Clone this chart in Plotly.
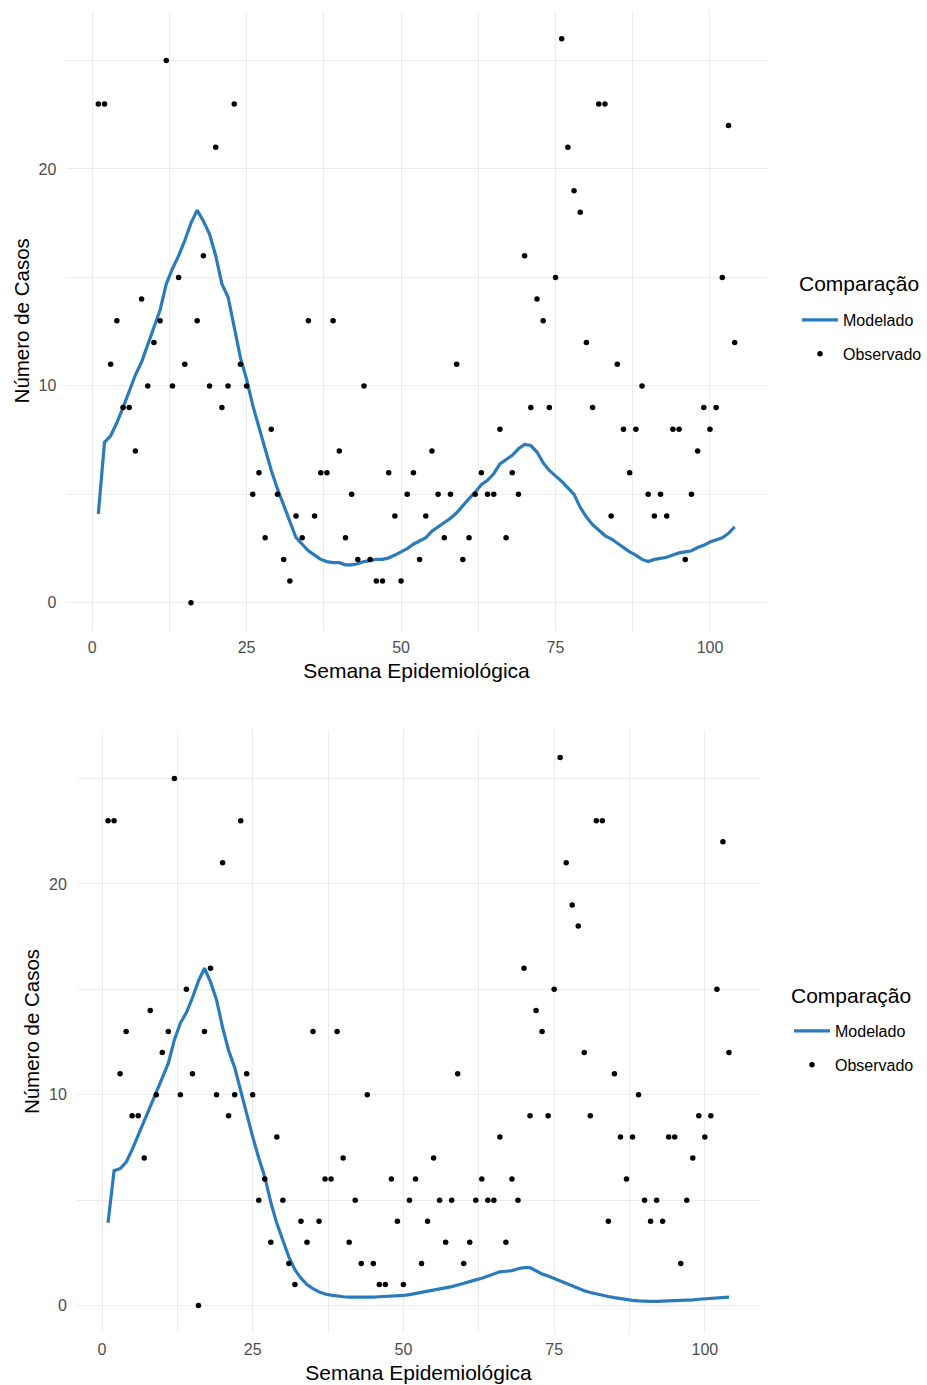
import plotly.graph_objects as go

weeks = list(range(1, 105))

observed = [23, 23, 11, 13, 9, 9, 7, 14, 10, 12, 13, 25, 10, 15, 11, 0, 13, 16, 10, 21,
            9, 10, 23, 11, 10, 5, 6, 3, 8, 5, 2, 1, 4, 3, 13, 4, 6, 6, 13, 7,
            3, 5, 2, 10, 2, 1, 1, 6, 4, 1, 5, 6, 2, 4, 7, 5, 3, 5, 11, 2,
            3, 5, 6, 5, 5, 8, 3, 6, 5, 16, 9, 14, 13, 9, 15, 26, 21, 19, 18, 12,
            9, 23, 23, 4, 11, 8, 6, 8, 10, 5, 4, 5, 4, 8, 8, 2, 5, 7, 9, 8,
            9, 15, 22, 12]

modeled_top = [4.1, 7.4, 7.7, 8.3, 9.0, 9.8, 10.5, 11.1, 11.9, 12.6, 13.5, 14.7, 15.4, 16.0, 16.7, 17.5,
               18.1, 17.6, 17.0, 16.0, 14.7, 14.1, 12.7, 11.3, 10.3, 9.1, 8.1, 7.1, 6.1, 5.25,
               4.5, 3.8, 3.0, 2.7, 2.4, 2.2, 2.0, 1.9, 1.85, 1.85, 1.75, 1.75, 1.8, 1.9, 1.95,
               2.0, 2.0, 2.07, 2.2, 2.35, 2.5, 2.7, 2.85, 3.0, 3.3, 3.5, 3.7, 3.9, 4.15, 4.5,
               4.8, 5.1, 5.45, 5.65, 5.95, 6.4, 6.6, 6.8, 7.1, 7.3, 7.25, 6.95, 6.45, 6.1, 5.85,
               5.6, 5.3, 5.0, 4.4, 3.95, 3.6, 3.35, 3.1, 2.95, 2.75, 2.55, 2.35, 2.2, 2.0, 1.9,
               2.0, 2.05, 2.1, 2.2, 2.3, 2.35, 2.4, 2.55, 2.65, 2.8, 2.9, 3.0, 3.2, 3.5]

modeled_bottom = [3.93, 6.4, 6.5, 6.8, 7.4, 8.1, 8.8, 9.45, 10.1, 10.8, 11.5, 12.6, 13.4, 13.9, 14.6,
                  15.4, 16.0, 15.35, 14.5, 13.2, 12.1, 11.3, 10.2, 9.05, 8.0, 7.0, 6.1, 4.9, 3.9,
                  3.1, 2.3, 1.7, 1.3, 1.0, 0.8, 0.65, 0.55, 0.5, 0.45, 0.42, 0.4, 0.4, 0.38, 0.38,
                  0.4, 0.42, 0.43, 0.45, 0.46, 0.48, 0.52, 0.57, 0.62, 0.68, 0.74, 0.8, 0.85, 0.9,
                  0.98, 1.05, 1.12, 1.22, 1.3, 1.4, 1.5, 1.6, 1.63, 1.66, 1.75, 1.8, 1.8, 1.65, 1.5,
                  1.4, 1.28, 1.18, 1.08, 0.95, 0.8, 0.7, 0.62, 0.55, 0.48, 0.43, 0.38, 0.33, 0.28,
                  0.25, 0.22, 0.2, 0.2, 0.2, 0.21, 0.21, 0.22, 0.23, 0.25, 0.27, 0.3, 0.32, 0.33,
                  0.35, 0.37, 0.4]

x_ticks = [0, 25, 50, 75, 100]
y_ticks = [0, 10, 20]
legend_title = "Comparação"

BLUE = "#2B7BBA"
GRID = "#EBEBEB"
FONT = "Liberation Sans"
W, H = 927, 1385

fig = go.Figure()

for i, (mod, leg) in enumerate([(modeled_top, "legend"), (modeled_bottom, "legend2")]):
    xa = "x" if i == 0 else "x2"
    ya = "y" if i == 0 else "y2"
    fig.add_trace(go.Scatter(x=weeks, y=mod, mode="lines", name="Modelado",
                             line=dict(color=BLUE, width=3.2), xaxis=xa, yaxis=ya,
                             legend=leg, legendgroup="m"))
    fig.add_trace(go.Scatter(x=weeks, y=observed, mode="markers", name="Observado",
                             marker=dict(color="black", size=5.5), xaxis=xa, yaxis=ya,
                             legend=leg, legendgroup="o"))

def xaxis(domain, anchor):
    return dict(domain=domain, anchor=anchor, range=[-4.15, 109.15], tickvals=x_ticks,
                showgrid=True, gridcolor=GRID, gridwidth=1.1, zeroline=False,
                minor=dict(tickvals=[12.5, 37.5, 62.5, 87.5], showgrid=True, gridcolor=GRID, gridwidth=0.6),
                ticks="outside", ticklen=2, tickcolor="rgba(0,0,0,0)",
                tickfont=dict(family=FONT, size=16, color="#4D4D4D"),
                title=dict(text="Semana Epidemiológica", font=dict(family=FONT, size=21, color="black"), standoff=8),
                showline=False)

def yaxis(domain, anchor):
    return dict(domain=domain, anchor=anchor, range=[-1.3, 27.3], tickvals=y_ticks,
                showgrid=True, gridcolor=GRID, gridwidth=1.1, zeroline=False,
                minor=dict(tickvals=[5, 15, 25], showgrid=True, gridcolor=GRID, gridwidth=0.6),
                ticks="outside", ticklen=6, tickcolor="rgba(0,0,0,0)",
                tickfont=dict(family=FONT, size=16, color="#4D4D4D"),
                title=dict(text="Número de Casos", font=dict(family=FONT, size=20.5, color="black"), standoff=3),
                showline=False)

top_x = [66.5 / W, 766.5 / W]
top_y = [1 - 631 / H, 1 - 10.6 / H]
bot_x = [77 / W, 760 / W]
bot_y = [1 - 1333 / H, 1 - 730 / H]

leg_common = dict(xanchor="left", yanchor="top", bgcolor="rgba(0,0,0,0)",
                  font=dict(family=FONT, size=16, color="black"),
                  tracegroupgap=10, itemwidth=36)

fig.update_layout(
    width=W, height=H,
    margin=dict(l=0, r=0, t=0, b=0),
    paper_bgcolor="white", plot_bgcolor="white",
    xaxis=xaxis(top_x, "y"), yaxis=yaxis(top_y, "x"),
    xaxis2=xaxis(bot_x, "y2"), yaxis2=yaxis(bot_y, "x2"),
    legend=dict(x=797 / W, y=1 - 303 / H, **leg_common),
    legend2=dict(x=789 / W, y=1 - 1014 / H, **leg_common),
    font=dict(family=FONT),
    annotations=[
        dict(text=legend_title, x=797 / W, y=1 - 283 / H, xref="paper", yref="paper",
             xanchor="left", yanchor="middle", showarrow=False,
             font=dict(family=FONT, size=21, color="black")),
        dict(text=legend_title, x=789 / W, y=1 - 995 / H, xref="paper", yref="paper",
             xanchor="left", yanchor="middle", showarrow=False,
             font=dict(family=FONT, size=21, color="black")),
    ],
)

fig.write_html("out.html")
